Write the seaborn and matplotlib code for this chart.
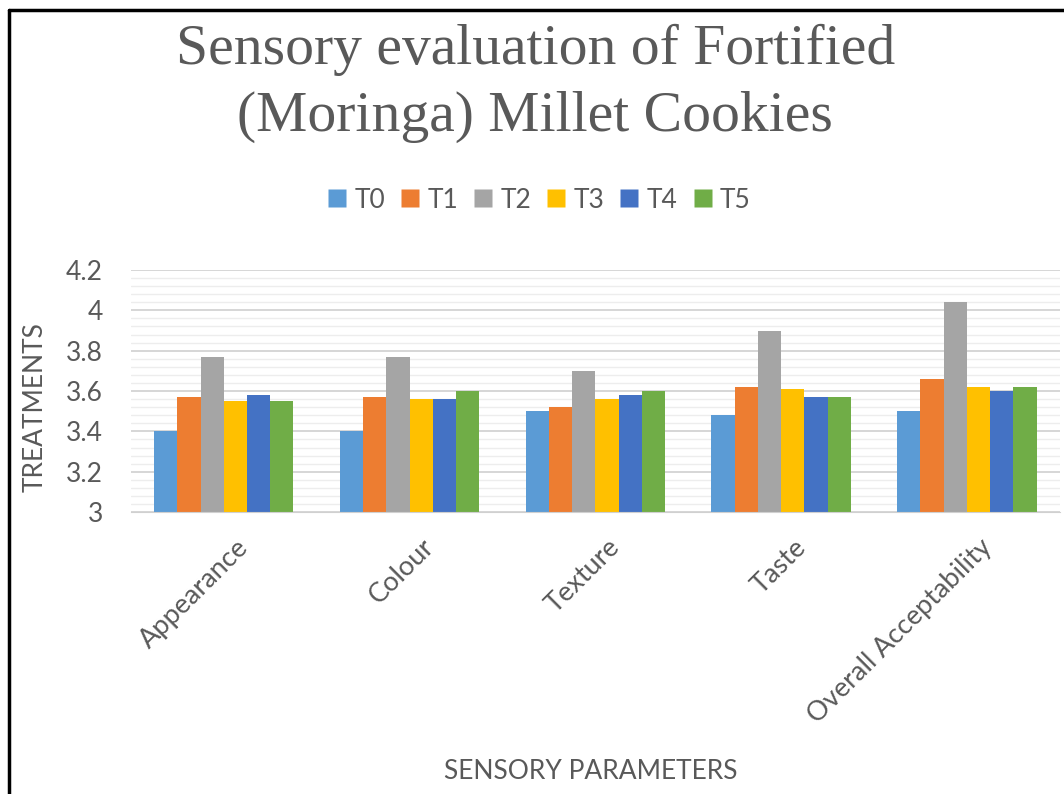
import numpy as np
import pandas as pd
import matplotlib
matplotlib.use("Agg")
import matplotlib.pyplot as plt
import matplotlib.transforms as mtrans
from matplotlib.lines import Line2D
from matplotlib.ticker import MultipleLocator
import seaborn as sns

params = ["Appearance", "Colour", "Texture", "Taste", "Overall Acceptability"]
treatments = ["T0", "T1", "T2", "T3", "T4", "T5"]
T0 = [3.40, 3.40, 3.50, 3.48, 3.50]
T1 = [3.57, 3.57, 3.52, 3.62, 3.66]
T2 = [3.77, 3.77, 3.70, 3.90, 4.04]
T3 = [3.55, 3.56, 3.56, 3.61, 3.62]
T4 = [3.58, 3.56, 3.58, 3.57, 3.60]
T5 = [3.55, 3.60, 3.60, 3.57, 3.62]
colors = ["#5B9BD5", "#ED7D31", "#A5A5A5", "#FFC000", "#4472C4", "#70AD47"]

series = [T0, T1, T2, T3, T4, T5]
df = pd.DataFrame({
    "param": params * len(treatments),
    "treatment": [t for t in treatments for _ in params],
    "value": [v for s in series for v in s],
})

sns.set_style("white")
plt.rcParams["font.family"] = ["Lato", "DejaVu Sans"]
txt = "#595959"

fig = plt.figure(figsize=(10.64, 7.94), dpi=100)
ax = fig.add_axes([0.123, 0.355, 0.873, 0.305])

sns.barplot(data=df, x="param", y="value", hue="treatment", palette=colors,
            width=0.75, gap=0, saturation=1, ax=ax, legend=False)
for p in ax.patches:
    p.set_edgecolor("none")

ax.set_ylim(3, 4.2)
ax.set_xlim(-0.5, 4.5)
ax.yaxis.set_major_locator(MultipleLocator(0.2))
ax.yaxis.set_minor_locator(MultipleLocator(0.04))
ax.yaxis.set_major_formatter(matplotlib.ticker.FuncFormatter(lambda v, _: f"{v:g}"))
ax.grid(axis="y", which="major", color="#D0D0D0", lw=1.2)
ax.grid(axis="y", which="minor", color="#EDEDED", lw=1)
ax.set_axisbelow(True)
for s in ["top", "right", "left"]:
    ax.spines[s].set_visible(False)
ax.spines["bottom"].set_color("#D0D0D0")
ax.tick_params(axis="y", length=0, pad=20, labelsize=19, labelcolor=txt)
ax.tick_params(axis="x", length=0, pad=16, labelsize=19.5, labelcolor=txt)
shift = mtrans.ScaledTranslation(12 / 100, 0, fig.dpi_scale_trans)
for lab in ax.get_xticklabels():
    lab.set_rotation(45)
    lab.set_ha("right")
    lab.set_va("top")
    lab.set_rotation_mode("anchor")
    lab.set_transform(lab.get_transform() + shift)

ax.set_xlabel("")
ax.set_ylabel("")
fig.text(0.555, 0.028, "SENSORY PARAMETERS", ha="center", va="center", fontsize=19, color=txt)
fig.text(0.033, 0.487, "TREATMENTS", ha="center", va="center", rotation=90, fontsize=19, color=txt)

fig.text(0.503, 0.937, "Sensory evaluation of Fortified", ha="center", va="center",
         fontsize=41.5, color=txt, family="Liberation Serif")
fig.text(0.503, 0.853, "(Moringa) Millet Cookies", ha="center", va="center",
         fontsize=41.5, color=txt, family="Liberation Serif")

handles = [Line2D([], [], marker="s", ls="none", markersize=13, markerfacecolor=c,
                  markeredgecolor="none") for c in colors]
fig.legend(handles, treatments, loc="center", bbox_to_anchor=(0.505, 0.748), ncol=6,
           frameon=False, fontsize=19, labelcolor=txt, handletextpad=0.15,
           columnspacing=0.45, handlelength=1.0)

# frame lines on top and left of the picture
fig.add_artist(Line2D([0.008, 0.008], [0, 0.988], color="black", lw=2.5, transform=fig.transFigure))
fig.add_artist(Line2D([0.008, 1.0], [0.988, 0.988], color="black", lw=2.5, transform=fig.transFigure))

fig.savefig("out.png", dpi=100)
